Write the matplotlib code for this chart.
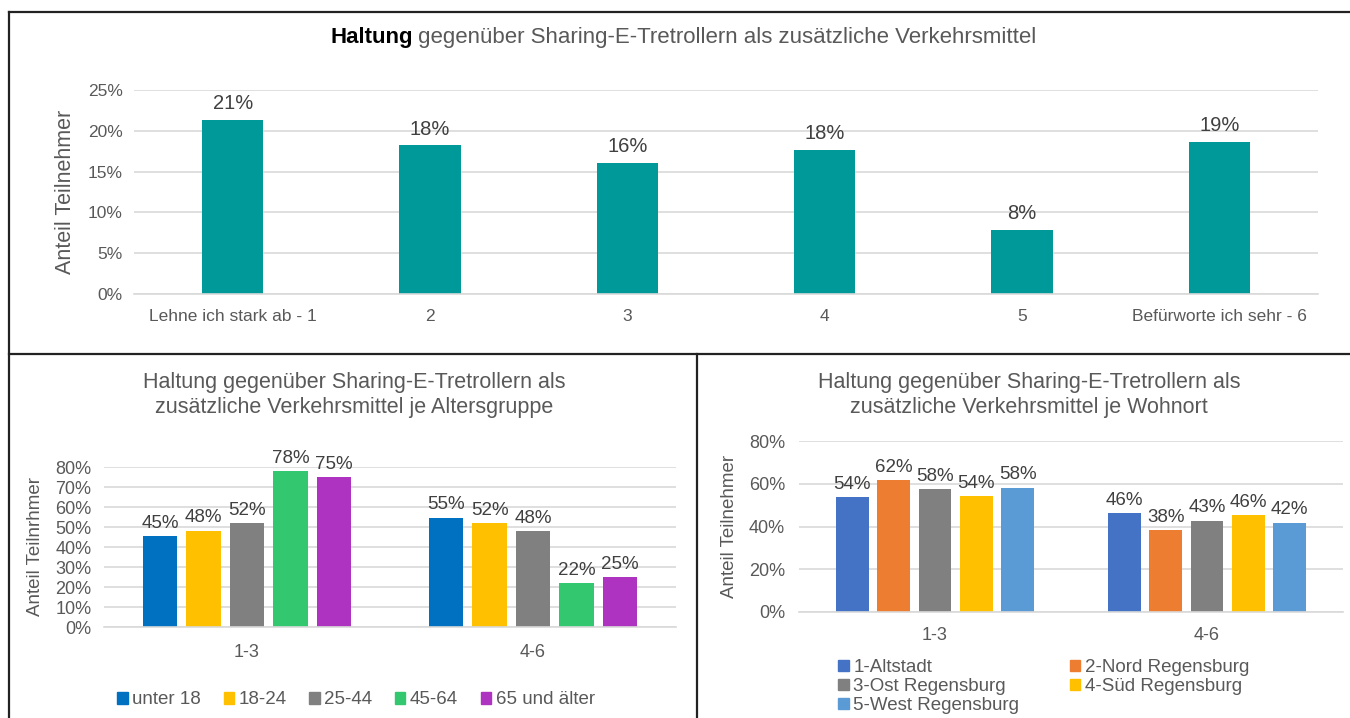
import matplotlib
matplotlib.use('Agg')
import matplotlib.pyplot as plt
from matplotlib.lines import Line2D
from matplotlib.patches import Patch
import matplotlib.ticker as mticker
import numpy as np

plt.rcParams['font.family'] = ['Liberation Sans', 'DejaVu Sans']

# Daten oben: Haltung gesamt
haltung_labels = ['Lehne ich stark ab - 1', '2', '3', '4', '5', 'Befürworte ich sehr - 6']
haltung_werte = [0.213, 0.182, 0.161, 0.177, 0.078, 0.186]
haltung_text = ['21%', '18%', '16%', '18%', '8%', '19%']

# Daten unten links: je Altersgruppe
gruppen = ['1-3', '4-6']
alter_namen = ['unter 18', '18-24', '25-44', '45-64', '65 und älter']
alter_werte = [[0.453, 0.547],
               [0.482, 0.518],
               [0.52, 0.48],
               [0.78, 0.22],
               [0.75, 0.25]]
alter_farben = ['#0070C0', '#FFC000', '#808080', '#33C870', '#AE33C0']

# Daten unten rechts: je Wohnort
ort_namen = ['1-Altstadt', '2-Nord Regensburg', '3-Ost Regensburg', '4-Süd Regensburg', '5-West Regensburg']
ort_werte = [[0.538, 0.462],
             [0.617, 0.383],
             [0.576, 0.428],
             [0.543, 0.455],
             [0.582, 0.418]]
ort_farben = ['#4472C4', '#ED7D31', '#808080', '#FFC000', '#5B9BD5']

GRAU = '#595959'
GRID = '#D9D9D9'
W, H = 1350, 718

fig = plt.figure(figsize=(W / 100, H / 100), dpi=100)


def px_axes(x0, x1, y_top, y_bot):
    # Achse in Pixelkoordinaten (y von oben)
    return fig.add_axes([x0 / W, 1 - y_bot / H, (x1 - x0) / W, (y_bot - y_top) / H])


def style_axes(ax, ymax, step, tick_fs, ypad):
    ax.set_ylim(0, ymax)
    ax.yaxis.set_major_locator(mticker.MultipleLocator(step))
    ax.yaxis.set_major_formatter(mticker.PercentFormatter(xmax=1.0, decimals=0))
    ax.grid(axis='y', color=GRID, linewidth=1.2)
    ax.set_axisbelow(True)
    for s in ['top', 'right', 'left']:
        ax.spines[s].set_visible(False)
    ax.spines['bottom'].set_color(GRID)
    ax.spines['bottom'].set_linewidth(1.2)
    ax.tick_params(length=0, colors=GRAU, labelsize=tick_fs)
    ax.tick_params(axis='y', pad=ypad)


# ---------- oben ----------
ax1 = px_axes(134, 1318, 90, 294)
x = np.arange(len(haltung_labels))
bars = ax1.bar(x, haltung_werte, width=0.31, color='#009999')
ax1.set_xlim(-0.5, len(x) - 0.5)
style_axes(ax1, 0.25, 0.05, 12.5, 8)
ax1.set_xticks(x)
ax1.set_xticklabels(haltung_labels, fontsize=12.5)
ax1.tick_params(axis='x', pad=11)
ax1.set_ylabel('Anteil Teilnehmer', fontsize=15.5, color=GRAU)
ax1.yaxis.set_label_coords(-0.049, 0.5)
for b, t in zip(bars, haltung_text):
    ax1.annotate(t, (b.get_x() + b.get_width() / 2, b.get_height()), xytext=(0, 5),
                 textcoords='offset points', ha='center', va='bottom', fontsize=14.5, color='#404040')

t1 = fig.text(330 / W, 1 - 37 / H, 'Haltung', fontsize=16, fontweight='bold', color='black', va='center')
fig.canvas.draw()
ax1.annotate(' gegenüber Sharing-E-Tretrollern als zusätzliche Verkehrsmittel', xy=(1, 0), xycoords=t1,
             va='bottom', ha='left', fontsize=16, color=GRAU)

# ---------- unten links ----------
ax2 = px_axes(104, 676, 467, 627)
g = np.arange(len(gruppen))
step = 0.152
for i, (name, werte, farbe) in enumerate(zip(alter_namen, alter_werte, alter_farben)):
    pos = g + (i - 2) * step
    bb = ax2.bar(pos, werte, width=0.12, color=farbe, label=name)
    for b, v in zip(bb, werte):
        ax2.annotate(f'{v:.0%}', (b.get_x() + b.get_width() / 2, v), xytext=(0, 3),
                     textcoords='offset points', ha='center', va='bottom', fontsize=13.5, color='#404040')
ax2.set_xlim(-0.5, 1.5)
style_axes(ax2, 0.8, 0.1, 13, 9)
ax2.set_xticks(g)
ax2.set_xticklabels(gruppen, fontsize=13)
ax2.tick_params(axis='x', pad=12)
ax2.set_ylabel('Anteil Teilnrhmer', fontsize=13.5, color=GRAU)
ax2.yaxis.set_label_coords(-0.105, 0.5)
fig.text(354 / W, 1 - 395 / H, 'Haltung gegenüber Sharing-E-Tretrollern als\nzusätzliche Verkehrsmittel je Altersgruppe',
         ha='center', va='center', fontsize=15.5, color=GRAU, linespacing=1.2)
fig.legend(handles=[Patch(color=c, label=n) for n, c in zip(alter_namen, alter_farben)],
           loc='center', bbox_to_anchor=(356 / W, 1 - 700 / H), ncol=5, frameon=False,
           fontsize=13.5, labelcolor=GRAU, handlelength=0.55, handleheight=0.55,
           handletextpad=0.25, columnspacing=1.2)

# ---------- unten rechts ----------
ax3 = px_axes(799, 1343, 441, 612)
for i, (name, werte, farbe) in enumerate(zip(ort_namen, ort_werte, ort_farben)):
    pos = g + (i - 2) * step
    bb = ax3.bar(pos, werte, width=0.12, color=farbe, label=name)
    for b, v in zip(bb, werte):
        ax3.annotate(f'{v:.0%}', (b.get_x() + b.get_width() / 2, v), xytext=(0, 3),
                     textcoords='offset points', ha='center', va='bottom', fontsize=13.5, color='#404040')
ax3.set_xlim(-0.5, 1.5)
style_axes(ax3, 0.8, 0.2, 13, 10)
ax3.set_xticks(g)
ax3.set_xticklabels(gruppen, fontsize=13)
ax3.tick_params(axis='x', pad=11)
ax3.set_ylabel('Anteil Teilnehmer', fontsize=13.5, color=GRAU)
ax3.yaxis.set_label_coords(-0.112, 0.5)
fig.text(1029 / W, 1 - 395 / H, 'Haltung gegenüber Sharing-E-Tretrollern als\nzusätzliche Verkehrsmittel je Wohnort',
         ha='center', va='center', fontsize=15.5, color=GRAU, linespacing=1.2)
ort_handles = [Patch(color=c, label=n) for n, c in zip(ort_namen, ort_farben)]
ordnung = [0, 2, 4, 1, 3]
fig.legend(handles=[ort_handles[k] for k in ordnung], loc='upper left',
           bbox_to_anchor=(829 / W, 1 - 650 / H), ncol=2, frameon=False,
           fontsize=13.5, labelcolor=GRAU, handlelength=0.55, handleheight=0.55,
           handletextpad=0.25, columnspacing=2.7, labelspacing=0.1, borderpad=0)

# ---------- Rahmen ----------
rahmen = dict(color='#222222', linewidth=1.6, transform=fig.transFigure)
fig.add_artist(Line2D([9 / W, 1], [1 - 12 / H, 1 - 12 / H], **rahmen))
fig.add_artist(Line2D([9 / W, 9 / W], [0, 1 - 12 / H], **rahmen))
fig.add_artist(Line2D([9 / W, 1], [1 - 354 / H, 1 - 354 / H], **rahmen))
fig.add_artist(Line2D([697 / W, 697 / W], [0, 1 - 354 / H], **rahmen))

fig.savefig('out.png', dpi=100)
